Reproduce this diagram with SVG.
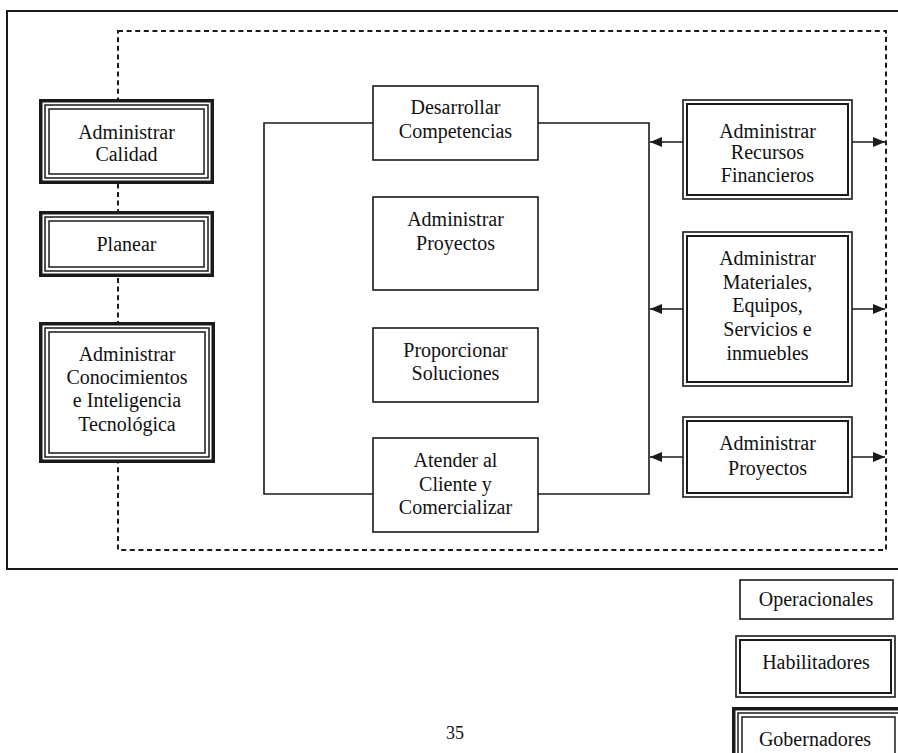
<svg xmlns="http://www.w3.org/2000/svg" width="898" height="753" viewBox="0 0 898 753">
  <style>
    text { font-family: "Liberation Serif", "Times New Roman", serif; font-size: 20px; fill: #111; text-anchor: middle; }
    .frame { fill: none; stroke: #1a1a1a; stroke-width: 2; }
    .dash { fill: none; stroke: #1a1a1a; stroke-width: 2; stroke-dasharray: 5 3.6; }
    .wire { fill: none; stroke: #1a1a1a; stroke-width: 1.6; }
    .box { fill: #fff; stroke: #1a1a1a; stroke-width: 1.6; }
    .thick { fill: #fff; stroke: #1a1a1a; stroke-width: 3.5; }
    .thin { fill: none; stroke: #1a1a1a; stroke-width: 1.5; }
    .mid { fill: none; stroke: #1a1a1a; stroke-width: 2; }
  </style>
  <defs>
    <marker id="arrow" markerUnits="userSpaceOnUse" markerWidth="13" markerHeight="10" refX="12" refY="5" orient="auto">
      <path d="M0,0 L12,5 L0,10 z" fill="#1a1a1a"/>
    </marker>
  </defs>
  <rect width="898" height="753" fill="#fff"/>

  <!-- outer page frame (continues past the right edge) -->
  <path class="frame" d="M910,11 H7 V569 H910"/>

  <!-- process boundary -->
  <rect class="dash" x="118" y="31" width="768" height="519"/>

  <g id="connectors">
    <path class="wire" d="M373,123 H264 V494 H373"/>
    <path class="wire" d="M538,123 H649 V494 H538"/>
    <line class="wire" x1="683" y1="142" x2="650" y2="142" marker-end="url(#arrow)"/>
    <line class="wire" x1="852" y1="142" x2="885" y2="142" marker-end="url(#arrow)"/>
    <line class="wire" x1="683" y1="309" x2="650" y2="309" marker-end="url(#arrow)"/>
    <line class="wire" x1="852" y1="309" x2="885" y2="309" marker-end="url(#arrow)"/>
    <line class="wire" x1="683" y1="457" x2="650" y2="457" marker-end="url(#arrow)"/>
    <line class="wire" x1="852" y1="457" x2="885" y2="457" marker-end="url(#arrow)"/>
  </g>

  <!-- governing processes (triple border) -->
  <g id="administrar-calidad">
    <rect class="thick" x="40.75" y="100.75" width="171.5" height="81.5"/>
    <rect class="thin" x="45" y="105" width="163" height="73"/>
    <rect class="thin" x="49" y="109" width="155" height="65"/>
    <text x="126.5" y="139">Administrar</text>
    <text x="126.5" y="161">Calidad</text>
  </g>
  <g id="planear">
    <rect class="thick" x="40.75" y="212.75" width="171.5" height="62.5"/>
    <rect class="thin" x="45" y="217" width="163" height="54"/>
    <rect class="thin" x="49" y="221" width="155" height="46"/>
    <text x="126.5" y="251">Planear</text>
  </g>
  <g id="administrar-conocimientos">
    <rect class="thick" x="40.75" y="323.75" width="172.5" height="137.5"/>
    <rect class="thin" x="45" y="328" width="164" height="129"/>
    <rect class="thin" x="49" y="332" width="156" height="121"/>
    <text x="127" y="361">Administrar</text>
    <text x="127" y="384">Conocimientos</text>
    <text x="127" y="407">e Inteligencia</text>
    <text x="127" y="431">Tecnológica</text>
  </g>

  <!-- operational processes (single border) -->
  <g id="desarrollar-competencias">
    <rect class="box" x="373" y="86" width="165" height="74"/>
    <text x="455.5" y="114">Desarrollar</text>
    <text x="455.5" y="138">Competencias</text>
  </g>
  <g id="administrar-proyectos-op">
    <rect class="box" x="373" y="197" width="165" height="93"/>
    <text x="455.5" y="226">Administrar</text>
    <text x="455.5" y="250">Proyectos</text>
  </g>
  <g id="proporcionar-soluciones">
    <rect class="box" x="373" y="328" width="165" height="74"/>
    <text x="455.5" y="357">Proporcionar</text>
    <text x="455.5" y="380">Soluciones</text>
  </g>
  <g id="atender-cliente">
    <rect class="box" x="373" y="438" width="165" height="94"/>
    <text x="455.5" y="467">Atender al</text>
    <text x="455.5" y="491">Cliente y</text>
    <text x="455.5" y="514">Comercializar</text>
  </g>

  <!-- enabling processes (double border) -->
  <g id="administrar-recursos">
    <rect class="box" x="683" y="100" width="169" height="99"/>
    <rect class="mid" x="687" y="104" width="161" height="91"/>
    <text x="767.5" y="138">Administrar</text>
    <text x="767.5" y="159">Recursos</text>
    <text x="767.5" y="182">Financieros</text>
  </g>
  <g id="administrar-materiales">
    <rect class="box" x="683" y="232" width="169" height="154"/>
    <rect class="mid" x="687" y="236" width="161" height="146"/>
    <text x="767.5" y="265">Administrar</text>
    <text x="767.5" y="289">Materiales,</text>
    <text x="767.5" y="312">Equipos,</text>
    <text x="767.5" y="336">Servicios e</text>
    <text x="767.5" y="360">inmuebles</text>
  </g>
  <g id="administrar-proyectos-hab">
    <rect class="box" x="683" y="417" width="169" height="80"/>
    <rect class="mid" x="687" y="421" width="161" height="72"/>
    <text x="767.5" y="450">Administrar</text>
    <text x="767.5" y="475">Proyectos</text>
  </g>

  <!-- legend -->
  <g id="legend-operacionales">
    <rect class="box" x="740" y="580" width="153" height="39"/>
    <text x="816" y="606">Operacionales</text>
  </g>
  <g id="legend-habilitadores">
    <rect class="box" x="736" y="636" width="159" height="61"/>
    <rect class="mid" x="740" y="640" width="151" height="53"/>
    <text x="816" y="669">Habilitadores</text>
  </g>
  <g id="legend-gobernadores">
    <rect class="thick" x="733.75" y="708.75" width="170" height="60"/>
    <rect class="thin" x="738" y="713" width="162" height="52"/>
    <rect class="thin" x="742" y="717" width="153" height="48"/>
    <text x="815" y="746">Gobernadores</text>
  </g>

  <text x="455" y="739" style="font-size:18px">35</text>
</svg>
